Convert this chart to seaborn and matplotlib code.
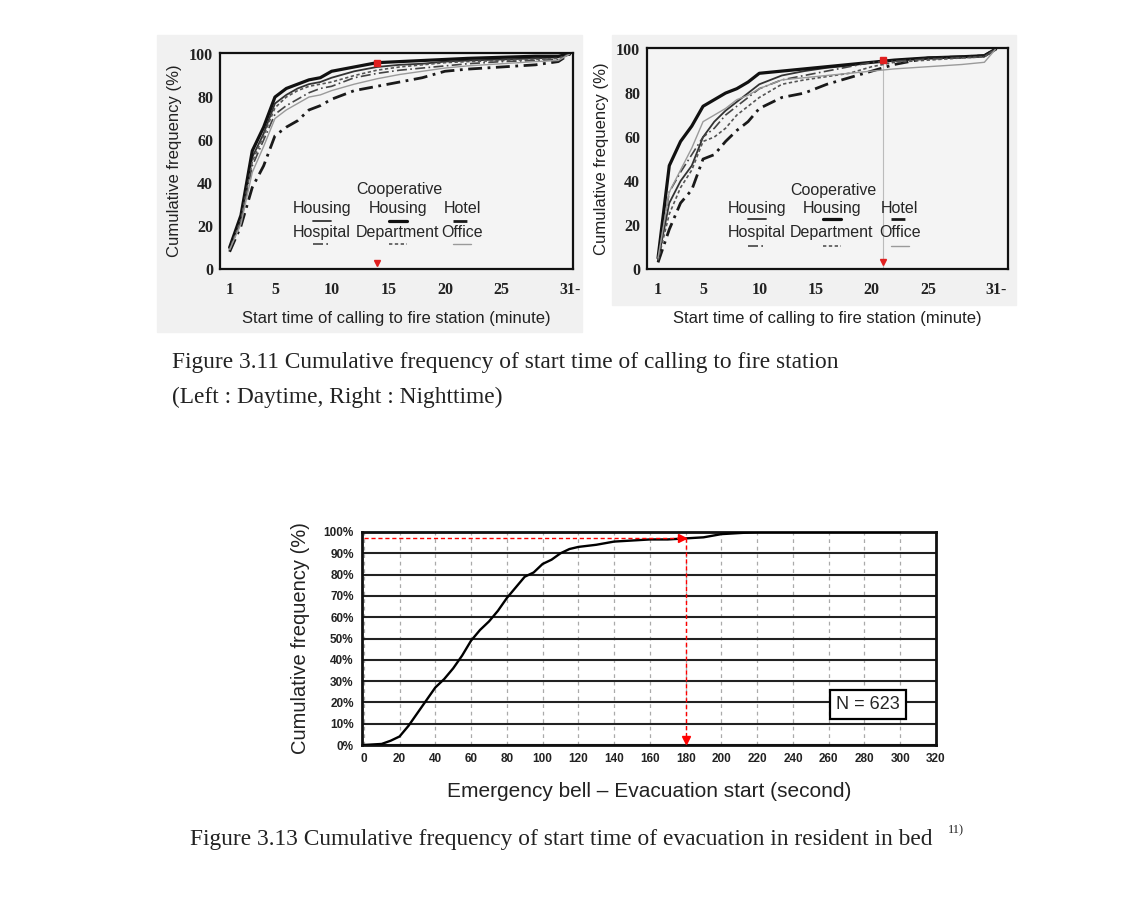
import numpy as np
import pandas as pd
import seaborn as sns
import matplotlib.pyplot as plt
from matplotlib.patches import Rectangle

sns.set_style("white")
plt.rcParams['font.family'] = ['Liberation Sans', 'DejaVu Sans']

# ---- data ----
minutes = [1, 2, 3, 4, 5, 6, 7, 8, 9, 10, 12, 14, 16, 18, 20, 22, 25, 28, 30, 31]

day = {
    'Housing':             [9, 24, 52, 63, 77, 81, 84, 86, 87, 89, 92, 94, 95, 95.5, 96.5, 97, 97.5, 98, 98.5, 100],
    'Cooperative Housing': [10, 25, 55, 66, 80, 84, 86, 88, 89, 92, 94, 96, 96.5, 97, 97.5, 98, 98.5, 99, 99, 100],
    'Hotel':               [8, 20, 38, 48, 62, 66, 69, 74, 76, 79, 83, 85, 87, 89, 92, 93, 94, 95, 96.5, 100],
    'Hospital':            [9, 22, 48, 60, 72, 76, 79, 82, 84, 85, 89, 91, 92.5, 93.5, 94.5, 95.5, 96.5, 97, 97.5, 100],
    'Department':          [9, 23, 50, 62, 75, 80, 83, 85, 86, 87, 90, 92.5, 94, 95, 96, 96.5, 97, 97.5, 98, 100],
    'Office':              [9, 21, 45, 57, 70, 74, 77, 80, 81, 83, 86, 88.5, 90.5, 92, 93.5, 94.5, 95.5, 96.5, 97, 100],
}

night = {
    'Housing':             [4, 30, 40, 47, 60, 67, 72, 76, 80, 84, 88, 90, 91.5, 92.5, 94, 95, 96, 96.5, 97, 100],
    'Cooperative Housing': [5, 47, 58, 65, 74, 77, 80, 82, 85, 89, 90, 91, 92, 93, 94, 95, 96, 96.5, 97, 100],
    'Hotel':               [3, 18, 30, 36, 50, 52, 58, 63, 67, 73, 78, 80, 84, 87, 90, 93, 96, 96.5, 97, 100],
    'Hospital':            [4, 35, 44, 52, 60, 64, 70, 74, 78, 82, 86, 88, 90, 92, 94, 94.5, 95.5, 96, 96.5, 100],
    'Department':          [4, 25, 37, 45, 58, 60, 64, 70, 74, 78, 84, 86, 87.5, 89, 92, 94, 95, 96, 96.5, 100],
    'Office':              [5, 35, 45, 55, 67, 70, 73, 77, 79, 82, 86, 87, 88, 89, 90, 91, 92, 93, 94, 100],
}

day_mark = (14, 96)      # red marks on daytime chart
night_mark = (21, 95)    # red marks on nighttime chart

seconds = [0, 10, 15, 20, 25, 30, 35, 40, 45, 50, 55, 60, 65, 70, 75, 80, 85, 90, 95, 100,
           105, 110, 115, 120, 130, 140, 150, 160, 170, 180, 190, 200, 210, 220, 250, 300]
cum_pct = [0, 0.5, 2, 4, 9, 15, 21, 27, 31, 36, 42, 49, 54, 58, 63, 69, 74, 79, 81, 85,
           87, 90, 92, 93, 94, 95.5, 96, 96.5, 96.5, 97, 97.5, 99, 99.5, 100, 100, 100]
cut_sec, cut_pct = 180, 97
n_total = 623

styles = {
    'Housing':             dict(color='#333333', lw=1.3, ls='-'),
    'Cooperative Housing': dict(color='#111111', lw=2.3, ls='-'),
    'Hotel':               dict(color='#1a1a1a', lw=2.0, ls=(0, (5, 2, 1, 2))),
    'Hospital':            dict(color='#444444', lw=1.2, ls=(0, (6, 2, 1, 2))),
    'Department':          dict(color='#555555', lw=1.2, ls=(0, (2, 1.5))),
    'Office':              dict(color='#9a9a9a', lw=1.0, ls='-'),
}

W, H = 1132, 918
fig = plt.figure(figsize=(W / 100, H / 100), dpi=100)


def box(x0, y0, x1, y1):
    return [x0 / W, 1 - y1 / H, (x1 - x0) / W, (y1 - y0) / H]


# grey scan background behind the two upper charts
for x0, y0, x1, y1 in [(157, 35, 582, 332), (612, 35, 1016, 305)]:
    fig.patches.append(Rectangle((x0 / W, 1 - y1 / H), (x1 - x0) / W, (y1 - y0) / H,
                                 transform=fig.transFigure, color='#f1f1f1', zorder=-10))

serif_bold = dict(family='Liberation Serif', weight='bold', size=11.5)


def draw_top(ax, data, xlim, mark, leg):
    for name, vals in data.items():
        st = styles[name]
        sns.lineplot(x=minutes, y=vals, ax=ax, color=st['color'], linewidth=st['lw'],
                     linestyle=st['ls'])
    ax.set_xlim(*xlim)
    ax.set_ylim(0, 100.5)
    ax.set_facecolor('#f4f4f4')
    ax.set_xticks([1, 5, 10, 15, 20, 25, 31])
    ax.set_xticklabels(['1', '5', '10', '15', '20', '25', '31-'])
    ax.set_xticks(range(1, 32), minor=True)
    ax.set_yticks(range(0, 101, 20))
    ax.set_yticks(range(0, 101, 10), minor=True)
    ax.tick_params(axis='x', which='both', direction='inout', length=7, width=1.3, pad=6)
    ax.tick_params(axis='y', which='both', direction='in', length=5, width=1.2, pad=5)
    for lab in ax.get_xticklabels() + ax.get_yticklabels():
        lab.set_fontproperties(serif_bold)
        lab.set_color('#222222')
    for sp in ax.spines.values():
        sp.set_linewidth(1.6)
        sp.set_color('#111111')
    ax.set_xlabel('Start time of calling to fire station (minute)', fontsize=12, labelpad=9, color='#222222')
    ax.set_ylabel('Cumulative frequency (%)', fontsize=12, labelpad=5, color='#222222')
    # red reference marks
    ax.plot(mark[0], mark[1], marker='s', ms=4, color='#e02020')
    ax.plot(mark[0], 3, marker='v', ms=5, color='#e02020')
    # legend drawn as in the original: labels with line keys below
    cx, cy, xs, rows = leg
    ax.text(cx, cy, 'Cooperative', transform=ax.transAxes, ha='center', va='center', fontsize=11.5)
    names = [['Housing', 'Cooperative Housing', 'Hotel'], ['Hospital', 'Department', 'Office']]
    for r, (yt, yl) in enumerate(rows):
        for c, name in enumerate(names[r]):
            label = 'Housing' if name == 'Cooperative Housing' else name
            ax.text(xs[c], yt, label, transform=ax.transAxes, ha='center', va='center', fontsize=11.5)
            st = styles[name]
            ax.plot([xs[c] - 0.025, xs[c] + 0.025], [yl, yl], transform=ax.transAxes,
                    color=st['color'], lw=st['lw'], ls=st['ls'])


ax1 = fig.add_axes(box(220, 53, 573, 269))
draw_top(ax1, day, (0.15, 31.3), day_mark,
         (0.507, 0.366, [0.289, 0.504, 0.686], [(0.278, 0.222), (0.167, 0.115)]))

ax2 = fig.add_axes(box(647, 48, 1008, 269))
draw_top(ax2, night, (0.02, 32.1), night_mark,
         (0.515, 0.357, [0.305, 0.512, 0.700], [(0.276, 0.226), (0.163, 0.105)]))
ax2.axvline(night_mark[0], ymax=0.93, color='#bbbbbb', lw=0.8, zorder=0)

# ---- bottom chart ----
ax3 = fig.add_axes(box(362, 532, 936, 745))
sns.lineplot(x=seconds, y=cum_pct, ax=ax3, color='black', linewidth=1.7, zorder=5)
ax3.set_xlim(-1, 320)
ax3.set_ylim(0, 100)
ax3.set_xticks(range(0, 321, 20))
ax3.set_yticks(range(0, 101, 10))
ax3.set_yticklabels([f'{v}%' for v in range(0, 101, 10)])
ax3.yaxis.grid(True, color='#222222', lw=1.5)
ax3.xaxis.grid(True, color='#aaaaaa', lw=0.9, ls=(0, (3, 3)))
ax3.tick_params(length=0, labelsize=8.5, pad=6)
for lab in ax3.get_xticklabels() + ax3.get_yticklabels():
    lab.set_fontweight('bold')
    lab.set_color('#222222')
for sp in ax3.spines.values():
    sp.set_linewidth(2)
    sp.set_color('#111111')
ax3.set_xlabel('Emergency bell \u2013 Evacuation start (second)', fontsize=15, labelpad=12, color='#222222')
ax3.set_ylabel('Cumulative frequency (%)', fontsize=14.5, labelpad=10, color='#222222')

ax3.plot([0, cut_sec], [cut_pct, cut_pct], color='red', lw=1, ls=(0, (3, 2)), zorder=6)
ax3.plot([cut_sec, cut_sec], [cut_pct, 2], color='red', lw=1, ls=(0, (3, 2)), zorder=6)
ax3.plot(cut_sec - 2, cut_pct, marker='>', ms=6, color='red', zorder=7)
ax3.plot(cut_sec, 2.5, marker='v', ms=6, color='red', zorder=7)
ax3.text(282, 19, f'N = {n_total}', fontsize=13, ha='center', va='center', zorder=8,
         bbox=dict(boxstyle='square,pad=0.35', fc='white', ec='black', lw=1.6))

# ---- captions ----
cap = dict(family='Liberation Serif', fontsize=16.8, color='#222222', ha='left', va='center')
fig.text(172 / W, 1 - 363 / H, 'Figure 3.11 Cumulative frequency of start time of calling to fire station', **cap)
fig.text(172 / W, 1 - 397 / H, '(Left : Daytime, Right : Nighttime)', **cap)
fig.text(190 / W, 1 - 840 / H, 'Figure 3.13 Cumulative frequency of start time of evacuation in resident in bed', **cap)
fig.text(948 / W, 1 - 830 / H, '11)', family='Liberation Serif', fontsize=9, color='#222222',
         ha='left', va='center')

fig.savefig('out.png', dpi=100)
